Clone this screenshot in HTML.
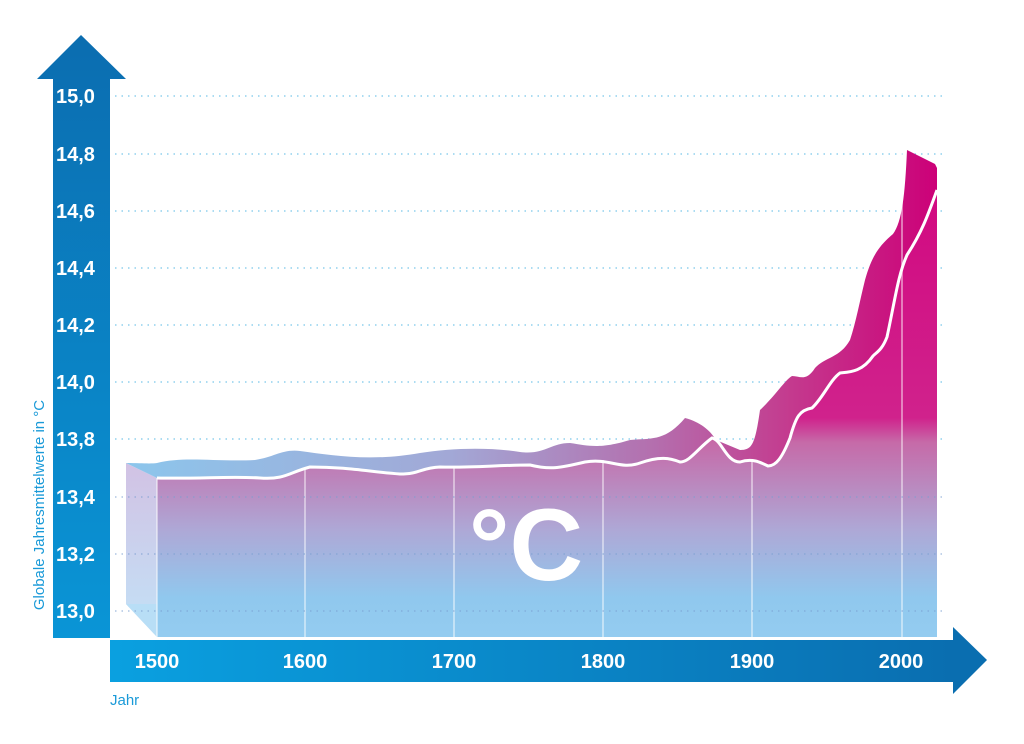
<!DOCTYPE html>
<html><head><meta charset="utf-8"><style>
html,body{margin:0;padding:0;background:#fff;}
svg{display:block;}
</style></head><body>
<svg width="1024" height="744" viewBox="0 0 1024 744" xmlns="http://www.w3.org/2000/svg" font-family="Liberation Sans, sans-serif">
<defs>
<linearGradient id="vbar" x1="0" y1="0" x2="0" y2="1">
<stop offset="0" stop-color="#0b6db0"/><stop offset="1" stop-color="#0a95d6"/></linearGradient>
<linearGradient id="hbar" x1="0" y1="0" x2="1" y2="0">
<stop offset="0" stop-color="#0aa0e0"/><stop offset="1" stop-color="#0a6eb0"/></linearGradient>
<linearGradient id="band" gradientUnits="userSpaceOnUse" x1="126" y1="0" x2="937" y2="0">
<stop offset="0" stop-color="#8cc6ec"/><stop offset="0.4" stop-color="#a2a8d6"/><stop offset="0.65" stop-color="#b46fae"/><stop offset="0.82" stop-color="#c43a8e"/><stop offset="1" stop-color="#cc0078"/></linearGradient>
<linearGradient id="front" gradientUnits="userSpaceOnUse" x1="0" y1="150" x2="0" y2="637">
<stop offset="0" stop-color="#d2057f"/><stop offset="0.55" stop-color="#d0228c"/><stop offset="0.6" stop-color="#c66aa8"/><stop offset="0.78" stop-color="#aea8d6"/><stop offset="0.92" stop-color="#90c8ee"/><stop offset="1" stop-color="#94ccf0"/></linearGradient>
<linearGradient id="side" x1="0" y1="0" x2="0" y2="1">
<stop offset="0" stop-color="#d2c2e4"/><stop offset="1" stop-color="#c2e2f7"/></linearGradient>
</defs>
<g stroke="#8fd0ee" stroke-width="1.5" stroke-dasharray="1.5 5">
<line x1="115" y1="96" x2="942" y2="96"/><line x1="115" y1="154" x2="942" y2="154"/>
<line x1="115" y1="211" x2="942" y2="211"/><line x1="115" y1="268" x2="942" y2="268"/>
<line x1="115" y1="325" x2="942" y2="325"/><line x1="115" y1="382" x2="942" y2="382"/>
<line x1="115" y1="439" x2="942" y2="439"/>
</g>
<polygon points="126,463 157,478 157,637 126,604" fill="url(#side)"/>
<polygon points="126,604 906,604 937,637 157,637" fill="#b8def6"/>
<path d="M126,463 C140,463 150,464 157,463 C185,456 215,462 255,460 C275,457 282,449 300,451 C330,455 370,462 420,453 C450,448 490,447 520,452 C545,455 550,443 570,443 C590,446 600,449 630,440 C650,438 665,442 685,418 C700,422 710,430 716,440 L740,450 C752,450 755,445 760,410 C775,396 785,380 792,376 C800,376 806,382 815,368 C825,357 840,358 850,340 C856,322 860,300 865,280 C872,255 880,245 893,234 C902,222 905,195 907,150 L935,164 L937,168 L937,190 C928,215 922,232 907,255 C898,275 895,300 887,337 C882,350 877,352 873,356 C862,372 850,372 840,373 C830,380 823,398 812,408 C800,410 796,416 790,438 C782,458 776,466 768,466 C760,462 752,458 740,462 C726,462 722,440 712,438 C698,448 690,462 680,462 C670,458 660,456 640,463 C620,470 610,458 585,462 C560,468 550,470 530,465 C500,465 470,468 440,467 C420,468 420,474 400,474 C370,472 350,467 310,467 C290,472 285,480 260,478 C230,476 200,479 157,478 Z" fill="url(#band)"/>
<path d="M157,478 C200,479 230,476 260,478 C285,480 290,472 310,467 C350,467 370,472 400,474 C420,474 420,468 440,467 C470,468 500,465 530,465 C550,470 560,468 585,462 C610,458 620,470 640,463 C660,456 670,458 680,462 C690,462 698,448 712,438 C722,440 726,462 740,462 C752,458 760,462 768,466 C776,466 782,458 790,438 C796,416 800,410 812,408 C823,398 830,380 840,373 C850,372 862,372 873,356 C877,352 882,350 887,337 C895,300 898,275 907,255 C922,232 928,215 937,190 L937,637 L157,637 Z" fill="url(#front)"/>
<g stroke="#ffffff" stroke-opacity="0.6" stroke-width="1.5">
<line x1="157" y1="478" x2="157" y2="640"/><line x1="305" y1="470" x2="305" y2="640"/>
<line x1="454" y1="467" x2="454" y2="640"/><line x1="603" y1="460" x2="603" y2="640"/>
<line x1="752" y1="460" x2="752" y2="640"/><line x1="902" y1="150" x2="902" y2="640"/>
</g>
<g stroke="#7a9fd0" stroke-opacity="0.6" stroke-width="1.5" stroke-dasharray="1.5 5">
<line x1="115" y1="497" x2="942" y2="497"/><line x1="115" y1="554" x2="942" y2="554"/><line x1="115" y1="611" x2="942" y2="611"/>
</g>
<path d="M157,478 C200,479 230,476 260,478 C285,480 290,472 310,467 C350,467 370,472 400,474 C420,474 420,468 440,467 C470,468 500,465 530,465 C550,470 560,468 585,462 C610,458 620,470 640,463 C660,456 670,458 680,462 C690,462 698,448 712,438 C722,440 726,462 740,462 C752,458 760,462 768,466 C776,466 782,458 790,438 C796,416 800,410 812,408 C823,398 830,380 840,373 C850,372 862,372 873,356 C877,352 882,350 887,337 C895,300 898,275 907,255 C922,232 928,215 937,190" fill="none" stroke="#fff" stroke-width="3"/>
<text x="526" y="580" font-size="102" fill="#fff" text-anchor="middle" font-weight="bold">°C</text>
<polygon points="81,35 126,79 110,79 110,638 53,638 53,79 37,79" fill="url(#vbar)"/>
<rect x="110" y="640" width="845" height="42" fill="url(#hbar)"/>
<polygon points="953,627 987,660 953,694" fill="#0a6eb0"/>
<g fill="#fff" font-size="20" font-weight="bold">
<text x="56" y="103">15,0</text><text x="56" y="161">14,8</text><text x="56" y="218">14,6</text>
<text x="56" y="275">14,4</text><text x="56" y="332">14,2</text><text x="56" y="389">14,0</text>
<text x="56" y="446">13,8</text><text x="56" y="504">13,4</text><text x="56" y="561">13,2</text>
<text x="56" y="618">13,0</text>
</g>
<g fill="#fff" font-size="20" font-weight="bold" text-anchor="middle">
<text x="157" y="668">1500</text><text x="305" y="668">1600</text><text x="454" y="668">1700</text>
<text x="603" y="668">1800</text><text x="752" y="668">1900</text><text x="901" y="668">2000</text>
</g>
<text transform="translate(44,505) rotate(-90)" text-anchor="middle" font-size="15" fill="#1a9ad8">Globale Jahresmittelwerte in °C</text>
<text x="110" y="705" font-size="15" fill="#1a9ad8">Jahr</text>
</svg>
</body></html>
